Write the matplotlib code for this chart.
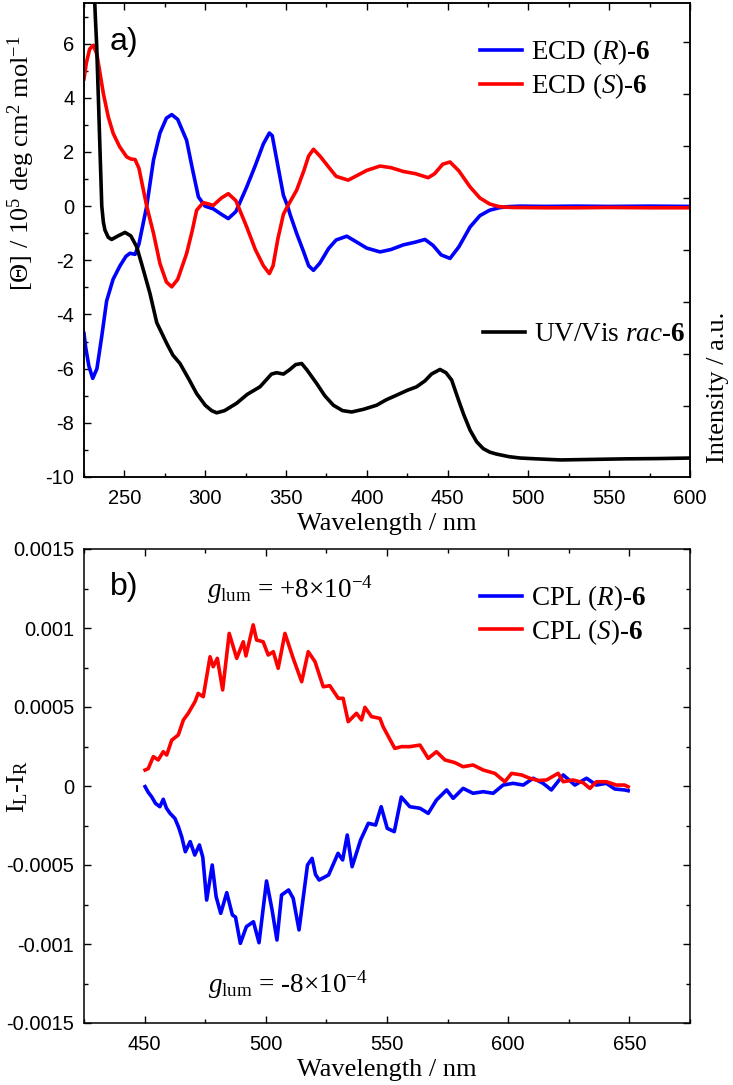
import matplotlib
matplotlib.use("Agg")
import matplotlib.pyplot as plt
from matplotlib.ticker import MultipleLocator, FuncFormatter, FixedLocator, NullFormatter

plt.rcParams['mathtext.fontset'] = 'custom'
plt.rcParams['mathtext.rm'] = 'Liberation Serif'
plt.rcParams['mathtext.it'] = 'Liberation Serif:italic'
plt.rcParams['mathtext.bf'] = 'Liberation Serif:bold'
plt.rcParams['axes.unicode_minus'] = False

# ---------------- data: panel a ----------------
ecd_R = [
    (225, -4.7), (226, -5.2), (228, -5.9), (230.4, -6.36), (233, -6.0), (236, -4.8),
    (239, -3.5), (243, -2.7), (247.3, -2.2), (251, -1.85), (253.5, -1.74), (256.6, -1.78),
    (259, -1.4), (263.8, 0.0), (268, 1.7), (272, 2.7), (276, 3.25), (279.3, 3.38),
    (283, 3.2), (288.5, 2.43), (292, 1.4), (295.8, 0.34), (299.9, 0.0), (305, -0.1),
    (310, -0.3), (314.3, -0.46), (319, -0.2), (325.7, 0.71), (331, 1.5), (336, 2.3),
    (339.7, 2.7), (341.5, 2.6), (344, 1.8), (348.4, 0.4), (351, 0.0), (352.5, -0.3),
    (356.6, -1.01), (361, -1.7), (364, -2.2), (367, -2.37), (371, -2.1), (376.3, -1.57),
    (381, -1.25), (387.6, -1.11), (393, -1.3), (400, -1.55), (408.2, -1.69), (415, -1.6),
    (422.6, -1.43), (430, -1.33), (436, -1.23), (441, -1.45), (446, -1.8), (451.5, -1.93),
    (457, -1.5), (463.9, -0.77), (470, -0.35), (476, -0.15), (482, -0.06), (487, -0.02),
    (495, 0.0), (510, -0.01), (530, 0.0), (550, -0.01), (575, 0.0), (600, -0.01),
]
ecd_S = [
    (225, 4.7), (226.5, 5.3), (228.5, 5.8), (230.8, 5.94), (233, 5.6), (237, 4.15),
    (240, 3.3), (243.1, 2.68), (247, 2.2), (251.4, 1.82), (254, 1.74), (256.6, 1.72),
    (259, 1.4), (263.8, 0.0), (268, -1.0), (272, -2.12), (276, -2.8), (279.3, -2.98),
    (283, -2.7), (288.5, -1.75), (292, -0.9), (294.7, -0.15), (298.8, 0.13), (302, 0.08),
    (305, 0.03), (310, 0.3), (314.3, 0.46), (319, 0.2), (325.7, -0.77), (331, -1.6),
    (336, -2.2), (339.7, -2.49), (342, -2.2), (345, -1.2), (348.4, -0.3), (351, 0.0),
    (356.6, 0.59), (361, 1.3), (364, 1.85), (367, 2.1), (371, 1.85), (376.3, 1.45),
    (381, 1.1), (388.5, 0.96), (393, 1.1), (400, 1.32), (408.2, 1.48), (415, 1.42),
    (422.6, 1.28), (430, 1.2), (438, 1.05), (442, 1.2), (447, 1.55), (451.5, 1.63),
    (457, 1.3), (463.9, 0.71), (470, 0.3), (476, 0.08), (482, -0.02), (490, -0.05),
    (510, -0.06), (530, -0.06), (550, -0.05), (575, -0.06), (600, -0.06),
]
uv_rac = [
    (225, 16), (228, 12), (231, 8.5), (232, 7.0), (232.8, 6.0), (234, 3.8), (234.9, 2.06),
    (236, 0.0), (237, -0.6), (238, -0.89), (240, -1.15), (242.1, -1.23), (246, -1.1),
    (250.4, -0.97), (254, -1.1), (257.6, -1.5), (261, -2.2), (265.8, -3.22), (270, -4.3),
    (276.2, -5.07), (280, -5.5), (284.4, -5.81), (290, -6.4), (294.7, -6.92), (300, -7.35),
    (304, -7.55), (307.1, -7.63), (312, -7.55), (319.4, -7.28), (326, -6.95), (333.9, -6.67),
    (338, -6.4), (341, -6.2), (344.2, -6.15), (348.4, -6.2), (352, -6.05), (356, -5.85),
    (359.7, -5.81), (363, -6.05), (369, -6.55), (374, -7.0), (379.3, -7.35), (385, -7.55),
    (390.6, -7.6), (398, -7.5), (406.1, -7.35), (412, -7.15), (418.4, -6.98), (425, -6.8),
    (430.8, -6.67), (436, -6.45), (440, -6.2), (445.3, -6.03), (449, -6.15), (452.5, -6.42),
    (457, -7.2), (460, -7.7), (463.9, -8.27), (468, -8.7), (472, -8.95), (476, -9.08),
    (480, -9.15), (488, -9.25), (495, -9.3), (505, -9.33), (520, -9.37), (540, -9.35),
    (560, -9.33), (580, -9.32), (600, -9.3),
]

# ---------------- data: panel b ----------------
cpl_S = [
    (450.2, 0.000101), (451.5, 0.000110), (453.6, 0.000186), (455.6, 0.000165),
    (457.7, 0.000217), (459.1, 0.000196), (461.2, 0.000290), (463.9, 0.000323),
    (466.0, 0.000418), (468.0, 0.000460), (470.8, 0.000534), (472.1, 0.000586),
    (474.2, 0.000565), (477.0, 0.000818), (478.3, 0.000755), (480.0, 0.000808),
    (482.2, 0.000608), (484.9, 0.000966), (488.0, 0.000808), (490.7, 0.000913),
    (491.8, 0.000823), (494.8, 0.001020), (496.2, 0.000924), (498.9, 0.000913),
    (501.0, 0.000829), (503.1, 0.000850), (505.1, 0.000745), (507.9, 0.000966),
    (511.3, 0.000808), (514.8, 0.000660), (517.5, 0.000850), (520.3, 0.000787),
    (523.7, 0.000628), (526.4, 0.000635), (529.9, 0.000555), (531.9, 0.000555),
    (534.0, 0.000407), (537.4, 0.000460), (539.5, 0.000418), (540.9, 0.000498),
    (543.6, 0.000439), (547.1, 0.000428), (548.4, 0.000375), (553.2, 0.000238),
    (556.0, 0.000249), (559.4, 0.000249), (563.6, 0.000259), (567.0, 0.000175),
    (570.4, 0.000217), (573.9, 0.000165), (578.0, 0.000148), (581.4, 0.000122),
    (585.5, 0.000133), (589.7, 0.000101), (594.5, 0.000080), (598.6, 0.000027),
    (601.4, 0.000080), (605.5, 0.000070), (608.9, 0.000049), (612.3, 0.000035),
    (615.8, 0.000038), (620.6, 0.000080), (622.7, 0.000027), (626.8, 0.000038),
    (630.9, 0.000021), (633.7, -0.000015), (636.4, 0.000027), (640.5, 0.000027),
    (644.6, 0.000006), (648.0, 0.000006), (649.5, -0.000005),
]
cpl_R = [
    (450.2, -0.000004), (451.5, -0.000040), (452.9, -0.000068), (454.5, -0.000110),
    (456.3, -0.000131), (457.7, -0.000084), (459.0, -0.000140), (460.5, -0.000173),
    (462.5, -0.000205), (464.0, -0.000260), (465.3, -0.000321), (466.8, -0.000416),
    (468.8, -0.000352), (470.7, -0.000437), (472.6, -0.000373), (474.0, -0.000450),
    (475.6, -0.000722), (477.9, -0.000500), (479.5, -0.000700), (481.4, -0.000806),
    (483.9, -0.000675), (486.2, -0.000816), (487.5, -0.000830), (489.5, -0.000996),
    (492.0, -0.000890), (494.9, -0.000859), (497.2, -0.000992), (500.3, -0.000601),
    (502.6, -0.000785), (504.6, -0.000975), (506.5, -0.000690), (509.4, -0.000658),
    (511.3, -0.000711), (513.7, -0.000911), (517.2, -0.000500), (519.1, -0.000458),
    (520.5, -0.000560), (522.0, -0.000595), (525.9, -0.000563), (529.8, -0.000426),
    (531.7, -0.000468), (533.6, -0.000310), (535.6, -0.000511), (539.1, -0.000342),
    (542.3, -0.000236), (545.3, -0.000247), (547.6, -0.000131), (550.1, -0.000268),
    (553.0, -0.000289), (555.9, -0.000070), (559.4, -0.000131), (563.6, -0.000141),
    (567.0, -0.000173), (570.4, -0.000089), (574.6, -0.000025), (577.3, -0.000078),
    (581.4, -0.000015), (585.5, -0.000046), (589.7, -0.000036), (593.8, -0.000046),
    (597.9, 0.000006), (602.0, 0.000017), (606.2, 0.000006), (610.3, 0.000049),
    (614.4, 0.000017), (617.8, -0.000025), (622.7, 0.000070), (627.5, 0.000006),
    (632.3, 0.000049), (636.4, 0.000006), (640.5, 0.000017), (644.0, -0.000019),
    (648.0, -0.000025), (649.5, -0.000030),
]

top_xticks = [250, 300, 350, 400, 450, 500, 550, 600]
top_yticks = [-10, -8, -6, -4, -2, 0, 2, 4, 6]
bot_xticks = [450, 500, 550, 600, 650]
bot_yticks = [-0.0015, -0.001, -0.0005, 0, 0.0005, 0.001, 0.0015]

BLUE = '#0000ff'
RED = '#ff0000'
LW = 2.6
SERIF = 'Liberation Serif'
SANS = 'Liberation Sans'
TICKFS = 14.5
LABFS = 19
LEGFS = 19.5


def xy(pairs):
    return [p[0] for p in pairs], [p[1] for p in pairs]


def style_axes(ax):
    for s in ax.spines.values():
        s.set_linewidth(1.1)
    ax.tick_params(which='both', direction='in', top=True, right=True, width=1.0)
    ax.tick_params(which='major', length=5)
    ax.tick_params(which='minor', length=3)
    ax.tick_params(axis='x', which='both', pad=8.5)
    ax.tick_params(axis='y', which='both', pad=7)
    for lab in ax.get_xticklabels() + ax.get_yticklabels():
        lab.set_fontfamily(SANS)
        lab.set_fontsize(TICKFS)


fig = plt.figure(figsize=(7.33, 10.85), dpi=100)

# ---------- panel a ----------
ax1 = fig.add_axes([84 / 733, 1 - 477 / 1085, 606 / 733, 474 / 1085])
x, y = xy(ecd_R)
l1, = ax1.plot(x, y, color=BLUE, lw=LW, label=r'ECD ($\mathit{R}$)-$\mathbf{6}$')
x, y = xy(ecd_S)
l2, = ax1.plot(x, y, color=RED, lw=LW, label=r'ECD ($\mathit{S}$)-$\mathbf{6}$')
x, y = xy(uv_rac)
l3, = ax1.plot(x, y, color='black', lw=LW, label=r'UV/Vis $\mathit{rac}$-$\mathbf{6}$')
ax1.set_xlim(225, 600)
ax1.set_ylim(-10, 7.5)
ax1.xaxis.set_major_locator(FixedLocator(top_xticks))
ax1.xaxis.set_minor_locator(MultipleLocator(25))
ax1.yaxis.set_major_locator(FixedLocator(top_yticks))
ax1.yaxis.set_minor_locator(MultipleLocator(1))
style_axes(ax1)
ax1.tick_params(right=False, which='both')
ax1.set_xlabel('Wavelength / nm', fontfamily=SERIF, fontsize=LABFS, labelpad=3.5)
ax1.set_ylabel('[Θ] / 10$^5$ deg cm$^2$ mol$^{-1}$', fontfamily=SERIF, fontsize=LABFS)
ax1.yaxis.set_label_coords(-0.078, 0.662)

ax1r = ax1.twinx()
ax1r.set_ylim(-1.365, 7.75)
ax1r.yaxis.set_major_locator(FixedLocator([0, 1, 2, 3, 4, 5, 6, 7]))
ax1r.yaxis.set_major_formatter(NullFormatter())
ax1r.tick_params(axis='y', direction='in', length=5, width=1.0)
for s in ax1r.spines.values():
    s.set_linewidth(1.1)
ax1r.set_ylabel('Intensity / a.u.', fontfamily=SERIF, fontsize=LABFS)
ax1r.yaxis.set_label_coords(1.028, 0.19)

leg1 = ax1.legend(handles=[l1, l2], loc='center left', bbox_to_anchor=(0.653, 0.860),
                  frameon=False, borderpad=0, borderaxespad=0, handlelength=1.55,
                  handletextpad=0.35, labelspacing=0.15, prop={'family': SERIF, 'size': LEGFS})
ax1.add_artist(leg1)
ax1.legend(handles=[l3], loc='center left', bbox_to_anchor=(0.658, 0.2996),
           frameon=False, borderpad=0, borderaxespad=0, handlelength=1.55,
           handletextpad=0.35, prop={'family': SERIF, 'size': LEGFS})
ax1.text((110 - 84) / 606, 1 - (42 - 3) / 474, 'a)', transform=ax1.transAxes,
         fontfamily=SANS, fontsize=23, va='center', ha='left')

# ---------- panel b ----------
ax2 = fig.add_axes([84 / 733, 1 - 1023 / 1085, 606 / 733, 474 / 1085])
x, y = xy(cpl_R)
m1, = ax2.plot(x, y, color=BLUE, lw=LW, label=r'CPL ($\mathit{R}$)-$\mathbf{6}$')
x, y = xy(cpl_S)
m2, = ax2.plot(x, y, color=RED, lw=LW, label=r'CPL ($\mathit{S}$)-$\mathbf{6}$')
ax2.set_xlim(425, 675)
ax2.set_ylim(-0.0015, 0.0015)
ax2.xaxis.set_major_locator(FixedLocator(bot_xticks))
ax2.xaxis.set_minor_locator(MultipleLocator(25))
ax2.yaxis.set_major_locator(FixedLocator(bot_yticks))
ax2.yaxis.set_minor_locator(MultipleLocator(0.00025))
ax2.yaxis.set_major_formatter(FuncFormatter(lambda v, p: '%g' % round(v, 6)))
style_axes(ax2)
ax2.set_xlabel('Wavelength / nm', fontfamily=SERIF, fontsize=LABFS, labelpad=3.5)
ax2.set_ylabel(r'I$_\mathrm{L}$-I$_\mathrm{R}$', fontfamily=SERIF, fontsize=LABFS)
ax2.yaxis.set_label_coords(-0.089, 0.5)
ax2.legend(handles=[m1, m2], loc='center left', bbox_to_anchor=(0.653, 0.861),
           frameon=False, borderpad=0, borderaxespad=0, handlelength=1.55,
           handletextpad=0.35, labelspacing=0.15, prop={'family': SERIF, 'size': LEGFS})
ax2.text((110 - 84) / 606, 1 - (587 - 549) / 474, 'b)', transform=ax2.transAxes,
         fontfamily=SANS, fontsize=23, va='center', ha='left')
ax2.text((207 - 84) / 606, 1 - (590 - 549) / 474, r'$g_\mathrm{lum}$ = +8×10$^{-4}$',
         transform=ax2.transAxes, fontfamily=SERIF, fontsize=LEGFS, va='center', ha='left')
ax2.text((208 - 84) / 606, 1 - (985 - 549) / 474, r'$g_\mathrm{lum}$ = -8×10$^{-4}$',
         transform=ax2.transAxes, fontfamily=SERIF, fontsize=LEGFS, va='center', ha='left')

fig.savefig('out.png', dpi=100)
